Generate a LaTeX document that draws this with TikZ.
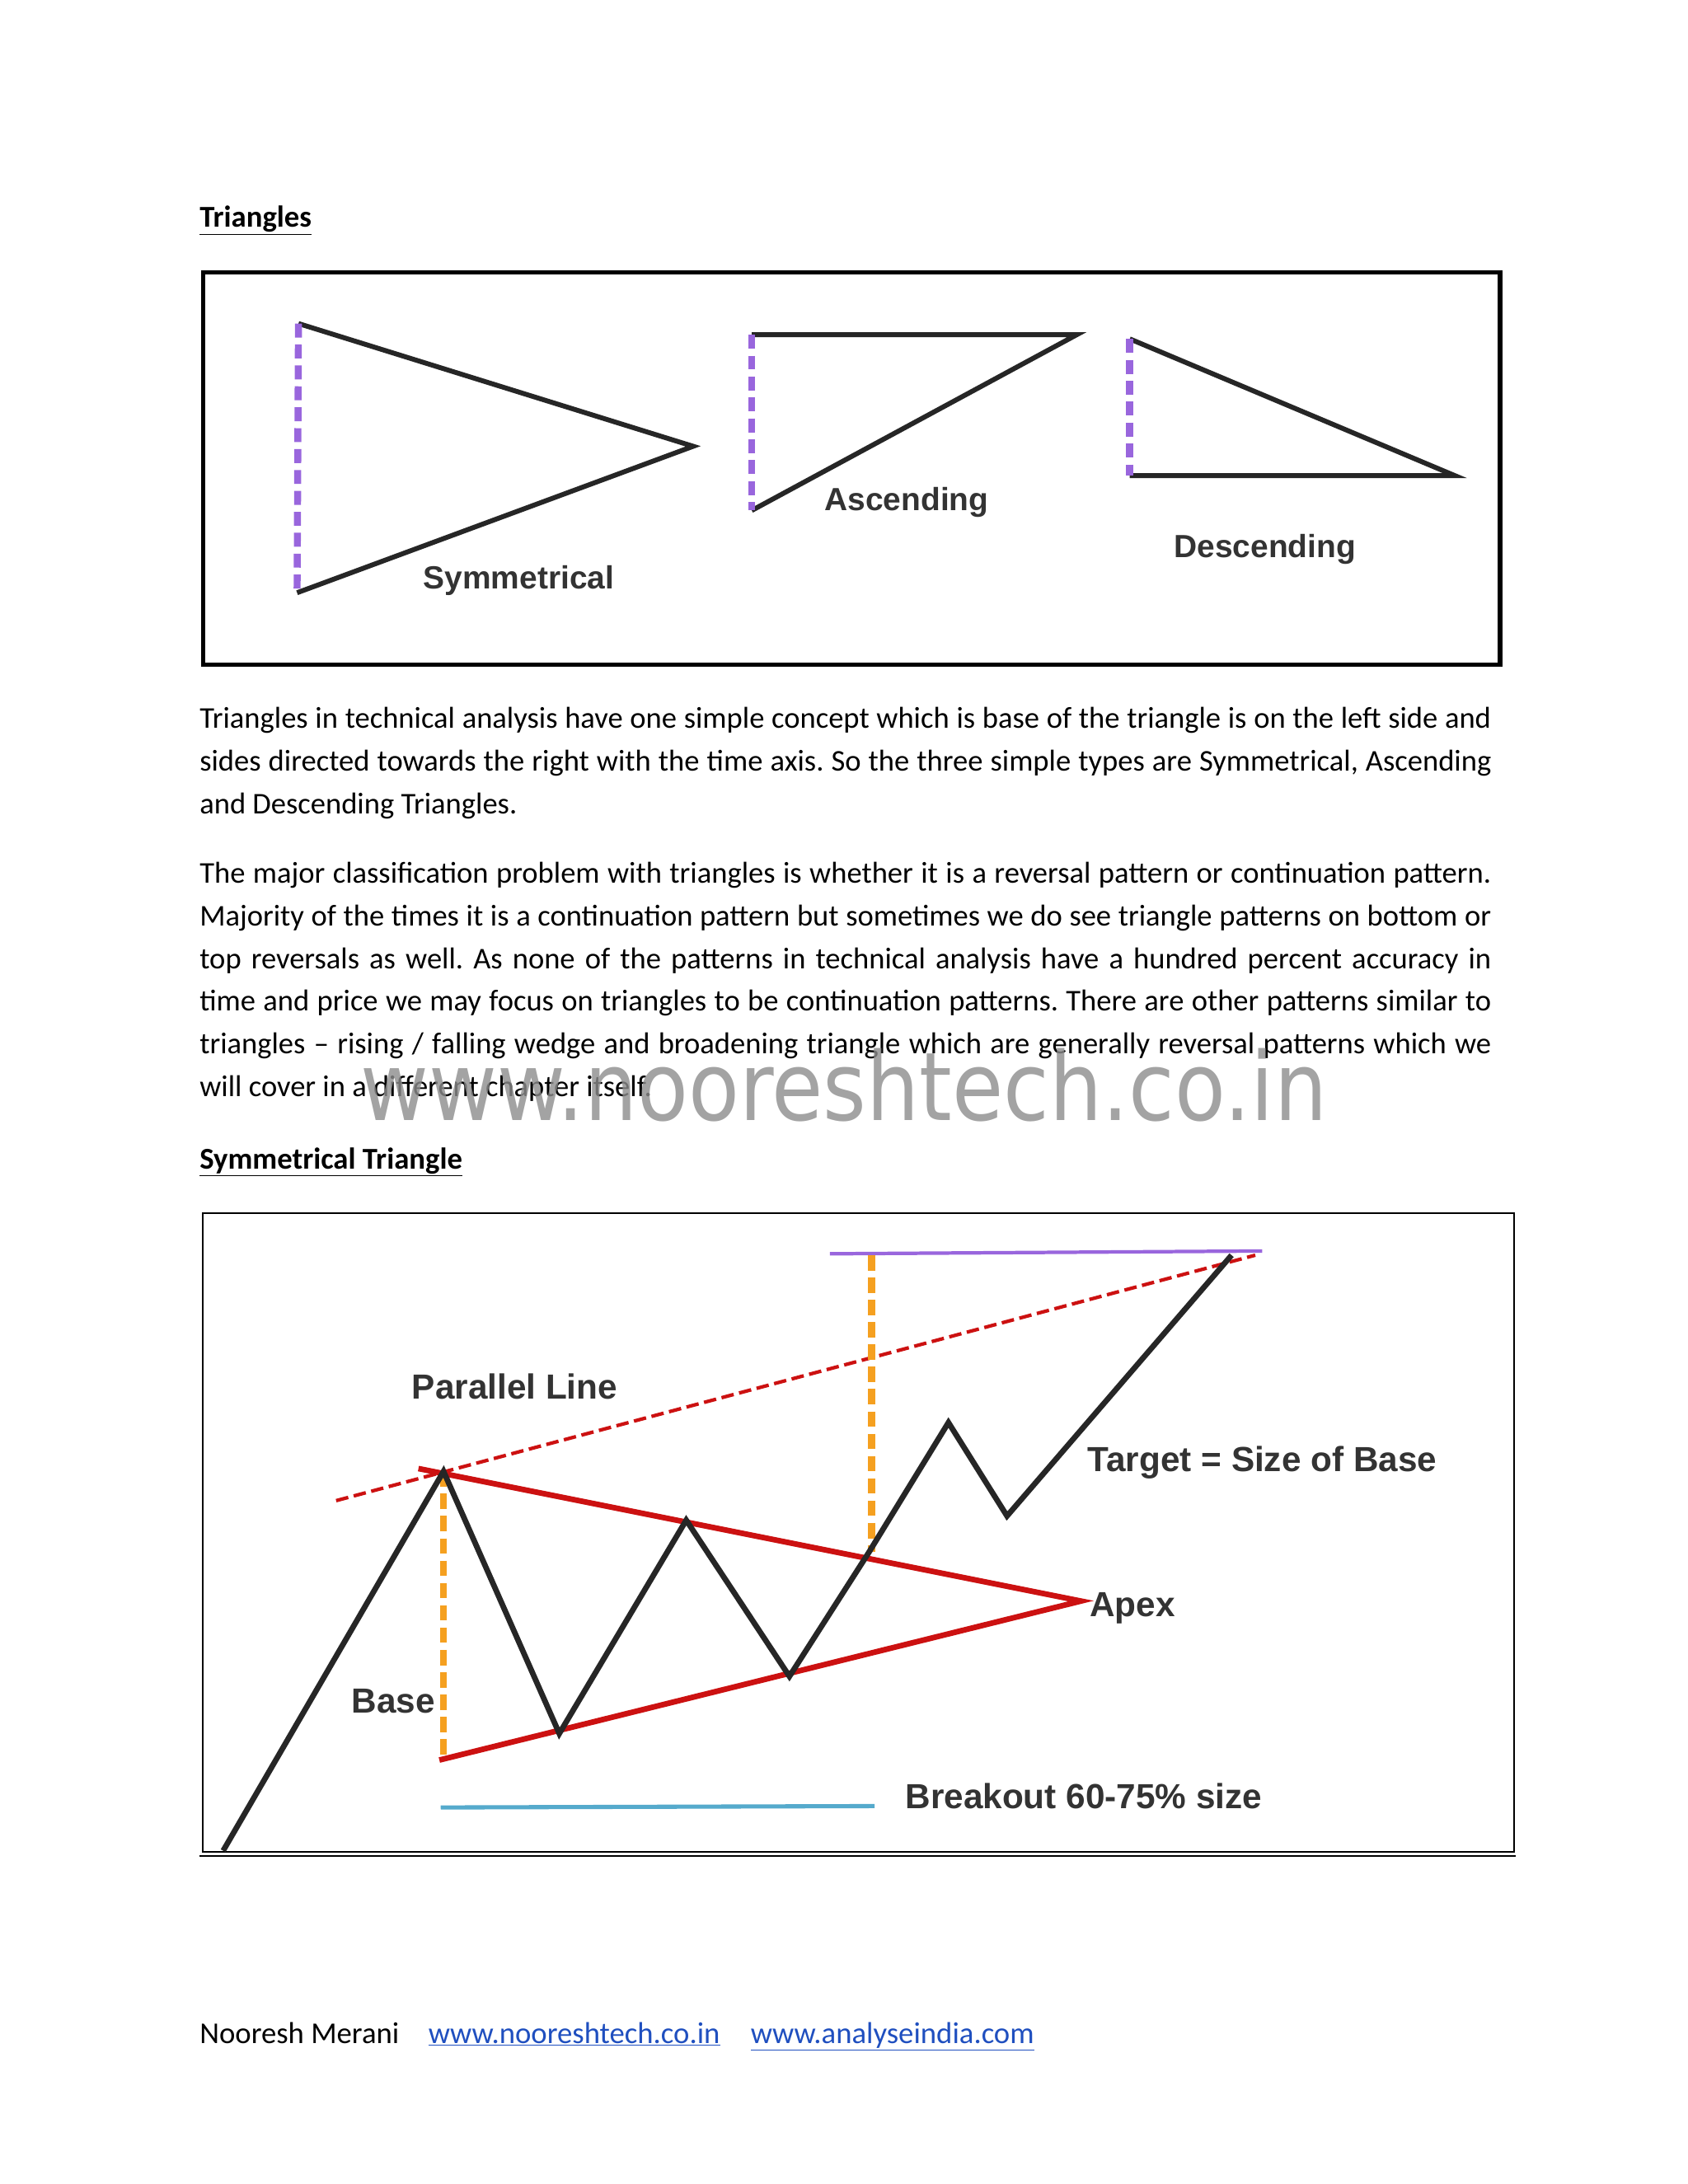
\documentclass[tikz,border=0pt]{standalone}
\usepackage{fontspec}
\setmainfont{Carlito}
\newfontfamily\lab{Liberation Sans}
\newfontfamily\wm{DejaVu Sans}
\definecolor{pur}{HTML}{9966DD}
\definecolor{rd}{HTML}{CC1111}
\definecolor{org}{HTML}{F5A020}
\definecolor{cy}{HTML}{55AACC}
\definecolor{lnk}{HTML}{1F4FBF}
\definecolor{txt}{HTML}{333333}
\tikzset{tri/.style={line width=3.5pt,black!85},
 base/.style={line width=5pt,pur,dash pattern=on 10pt off 5pt},
 lab/.style={font=\lab\bfseries\fontsize{23}{27}\selectfont,text=txt},
 lab2/.style={font=\lab\bfseries\fontsize{25}{29}\selectfont,text=txt},
 body/.style={anchor=north west,align=justify,text width=926pt,inner sep=0pt,font=\fontsize{21.6}{30.6}\selectfont}}
\begin{document}
\frenchspacing
\begin{tikzpicture}[x=1pt,y=-1pt]
\useasboundingbox (0,0) rectangle (1210,1566);
\node[anchor=base west,inner sep=0,font=\bfseries\fontsize{21.7}{24}\selectfont] (t1) at (143,163) {\underline{Triangles}};
\node[draw,line width=3pt,minimum width=930pt,minimum height=281pt,anchor=north west,inner sep=0] (b1) at (144,194) {};
\coordinate (s1) at (214,232); \coordinate (s2) at (497,320); \coordinate (s3) at (213,425);
\draw[tri] (s1)--(s2)--(s3); \draw[base] (s1)--(s3);
\node[lab] (ls) at (372,416) {Symmetrical};
\coordinate (a1) at (539,240); \coordinate (a2) at (772,240); \coordinate (a3) at (539,366);
\draw[tri] (a1)--(a2)--(a3); \draw[base] (a1)--(a3);
\node[lab] (la) at (650,360) {Ascending};
\coordinate (d1) at (810,243); \coordinate (d2) at (1043,341); \coordinate (d3) at (810,341);
\draw[tri] (d1)--(d2)--(d3); \draw[base] (d1)--(d3);
\node[lab] (ld) at (907,394) {Descending};
\node[body] (p1) at (143,507) {\hyphenpenalty=10000\relax Triangles in technical analysis have one simple concept which is base of the triangle is on the left side and sides directed towards the right with the time axis. So the three simple types are Symmetrical, Ascending and Descending Triangles.};
\node[body] (p2) at (143,618) {\hyphenpenalty=10000\relax The major classification problem with triangles is whether it is a reversal pattern or continuation pattern.\linebreak Majority of the times it is a continuation pattern but sometimes we do see triangle patterns on bottom or\linebreak top reversals as well. As none of the patterns in technical analysis have a hundred percent accuracy in\linebreak time and price we may focus on triangles to be continuation patterns. There are other patterns similar to\linebreak triangles -- rising / falling wedge and broadening triangle which are generally reversal patterns which we\linebreak will cover in a different chapter itself.};
\node[text=black!45,opacity=0.8,font=\wm\fontsize{68}{72}\selectfont,xscale=0.88] (wm) at (605,778) {www.nooreshtech.co.in};
\node[anchor=base west,inner sep=0,font=\bfseries\fontsize{21.7}{24}\selectfont] (t2) at (143,838) {\underline{Symmetrical Triangle}};
\node[draw,line width=1.2pt,minimum width=940pt,minimum height=458pt,anchor=north west,inner sep=0] (b2) at (145,869) {};
\draw[line width=1.2pt] (143,1331)--(1087,1331);
\draw[line width=2.5pt,rd,dash pattern=on 9pt off 4pt] (241,1076)--(900,900);
\draw[line width=2.5pt,pur] (595,899)--(905,897);
\draw[line width=4pt,rd] (300,1053)--(775,1148)--(315,1262);
\draw[line width=5pt,org,dash pattern=on 11pt off 5pt] (318,1055)--(318,1262) (625,900)--(625,1113);
\draw[line width=3pt,cy] (316,1296)--(627,1295);
\draw[line width=4pt,black!85,line join=miter] (160,1327)--(318,1055)--(401,1243)--(492,1090)--(566,1202)--(623,1113)--(680,1020)--(722,1087)--(883,900);
\node[lab2] (pl) at (369,994) {Parallel Line};
\node[lab2] (tg) at (905,1049) {Target = Size of Base};
\node[lab2] (ap) at (812,1153) {Apex};
\node[lab2] (bs) at (282,1220) {Base};
\node[lab2] (br) at (777,1288) {Breakout 60-75\% size};
\node[anchor=base west,inner sep=0,font=\fontsize{21.7}{24}\selectfont] (f1) at (143,1465) {Nooresh Merani};
\node[anchor=base west,inner sep=0,text=lnk,font=\fontsize{21.7}{24}\selectfont] (f2) at (307,1465) {\underline{www.nooreshtech.co.in}};
\node[anchor=base west,inner sep=0,text=lnk,font=\fontsize{21.7}{24}\selectfont] (f3) at (538,1465) {\underline{www.analyseindia.com}};
\end{tikzpicture}
\end{document}
